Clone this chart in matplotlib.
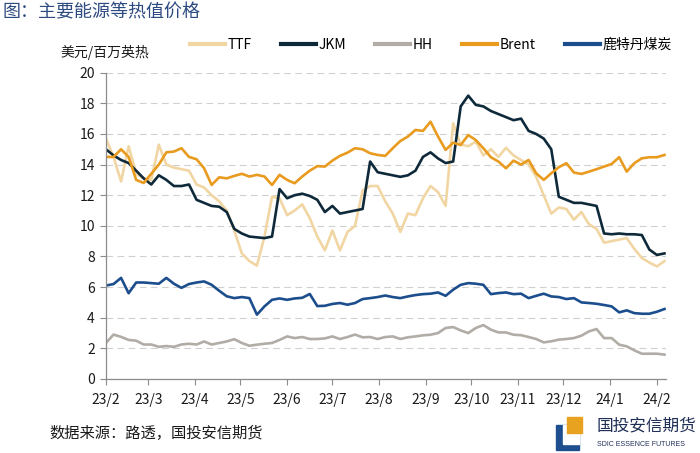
import matplotlib
matplotlib.use("Agg")
import matplotlib.pyplot as plt
import matplotlib.dates as mdates
import matplotlib.patches as mpatches
import pandas as pd

plt.rcParams['font.family'] = ['Noto Sans CJK SC', 'DejaVu Sans']

# sample dates (every 5 days from 2023-02-01)
dates = pd.date_range('2023-02-01', periods=75, freq='5D')

ttf = [15.7, 14.5, 12.9, 15.2, 13.4, 13.1, 13.0, 15.3, 14.0, 13.8, 13.7, 13.6, 12.7, 12.5, 12.0, 11.6, 11.0, 9.7, 8.2,
       7.7, 7.4, 9.3, 11.9, 11.8, 10.7, 11.0, 11.4, 10.5, 9.3, 8.4, 9.7, 8.4, 9.6, 10.0, 12.3, 12.6, 12.6,
       11.6, 10.8, 9.6, 10.8, 10.7, 11.8, 12.6, 12.2, 11.3, 16.7, 15.3, 15.2, 15.5, 14.6, 15.0, 14.5, 15.1, 14.6, 14.3,
       14.0, 13.2, 12.0, 10.8, 11.2, 11.1, 10.4, 10.9, 10.1, 9.8, 8.9, 9.0, 9.1, 9.2, 8.5, 7.9, 7.6, 7.35, 7.7]

jkm = [15.0, 14.6, 14.3, 14.1, 13.6, 13.1, 12.7, 13.3, 13.0, 12.6, 12.6, 12.7, 11.7, 11.5, 11.3, 11.25, 10.9, 9.8, 9.5,
       9.3, 9.25, 9.2, 9.3, 12.4, 11.8, 12.0, 12.1, 11.95, 11.7, 10.9, 11.3, 10.8, 10.9, 11.0, 11.1, 14.2, 13.5,
       13.4, 13.3, 13.2, 13.3, 13.6, 14.5, 14.8, 14.4, 14.1, 14.2, 17.8, 18.5, 17.9, 17.8, 17.5, 17.3, 17.1, 16.9, 17.0,
       16.2, 16.0, 15.7, 15.0, 11.9, 11.7, 11.5, 11.5, 11.4, 11.3, 9.5, 9.45, 9.5, 9.45, 9.45, 9.4, 8.45, 8.1, 8.2]

hh = [2.35, 2.9, 2.75, 2.55, 2.5, 2.25, 2.25, 2.1, 2.15, 2.1, 2.25, 2.3, 2.25, 2.45, 2.25, 2.35, 2.45, 2.6, 2.35,
      2.17, 2.24, 2.3, 2.35, 2.55, 2.78, 2.67, 2.74, 2.61, 2.61, 2.65, 2.78, 2.61, 2.74, 2.9, 2.72, 2.74, 2.61,
      2.74, 2.78, 2.61, 2.72, 2.78, 2.85, 2.89, 3.0, 3.33, 3.39, 3.17, 3.0, 3.33, 3.52, 3.22, 3.04, 3.04, 2.89, 2.86,
      2.74, 2.61, 2.39, 2.46, 2.57, 2.61, 2.67, 2.83, 3.11, 3.26, 2.67, 2.67, 2.24, 2.13, 1.87, 1.65, 1.65, 1.65, 1.59]

brent = [14.5, 14.5, 15.0, 14.5, 13.0, 12.8, 13.4, 14.0, 14.8, 14.85, 15.07, 14.5, 14.35, 13.76, 12.67, 13.17, 13.1, 13.26, 13.4,
         13.22, 13.33, 13.22, 12.67, 13.33, 13.0, 12.78, 13.22, 13.6, 13.9, 13.87, 14.26, 14.57, 14.78, 15.07, 15.0, 14.74, 14.63,
         14.57, 15.07, 15.54, 15.83, 16.26, 16.2, 16.8, 15.83, 14.96, 15.43, 15.28, 15.93, 15.6, 15.07, 14.48, 14.2, 13.76, 14.26, 14.0,
         14.3, 13.43, 13.0, 13.43, 13.83, 14.09, 13.48, 13.39, 13.54, 13.7, 13.87, 14.04, 14.48, 13.54, 14.09, 14.41, 14.48, 14.48, 14.63]

coal = [6.1, 6.2, 6.6, 5.6, 6.3, 6.3, 6.26, 6.22, 6.6, 6.22, 5.95, 6.2, 6.3, 6.37, 6.15, 5.76, 5.4, 5.28, 5.35,
        5.28, 4.2, 4.74, 5.17, 5.26, 5.17, 5.26, 5.3, 5.55, 4.76, 4.78, 4.9, 4.96, 4.85, 4.96, 5.22, 5.28, 5.35,
        5.45, 5.35, 5.28, 5.39, 5.48, 5.54, 5.57, 5.65, 5.43, 5.83, 6.15, 6.26, 6.22, 6.15, 5.54, 5.61, 5.65, 5.54, 5.57,
        5.28, 5.43, 5.57, 5.39, 5.35, 5.22, 5.28, 5.0, 4.96, 4.91, 4.83, 4.74, 4.35, 4.48, 4.3, 4.26, 4.26, 4.39, 4.57]

series_names = ['TTF', 'JKM', 'HH', 'Brent', '鹿特丹煤炭']
series_values = [ttf, jkm, hh, brent, coal]
colors = ['#F1D6A3', '#0E2A3A', '#B2ACA6', '#E89B1E', '#1C4E8E']

month_ticks = pd.date_range('2023-02-01', '2024-02-01', freq='MS')
month_labels = ['23/2', '23/3', '23/4', '23/5', '23/6', '23/7', '23/8', '23/9',
                '23/10', '23/11', '23/12', '24/1', '24/2']
y_ticks = [0, 2, 4, 6, 8, 10, 12, 14, 16, 18, 20]

fig = plt.figure(figsize=(7, 4.53), dpi=100)
ax = fig.add_axes([0.1514, 0.1634, 0.80, 0.6761])

for name, vals, c in zip(series_names, series_values, colors):
    ax.plot(dates, vals, color=c, lw=1.9, label=name, solid_joinstyle='round')

ax.set_ylim(0, 20)
ax.set_xlim(pd.Timestamp('2023-02-01'), pd.Timestamp('2024-02-07'))
ax.set_yticks(y_ticks)
ax.set_xticks(month_ticks)
ax.set_xticklabels(month_labels)
ax.yaxis.grid(True, linestyle=(0, (6, 4)), color='#D0D0D0', lw=0.8)
ax.set_axisbelow(True)
for s in ['top', 'right']:
    ax.spines[s].set_visible(False)
for s in ['left', 'bottom']:
    ax.spines[s].set_color('#8C8C8C')
    ax.spines[s].set_linewidth(0.9)
ax.tick_params(axis='both', colors='#8C8C8C', length=4, width=0.8, labelsize=10, labelcolor='#1A1A1A')
ax.tick_params(axis='x', pad=6)
ax.tick_params(axis='y', pad=4)

leg = fig.legend(loc='center left', bbox_to_anchor=(0.272, 0.901), ncol=5, frameon=False,
                 fontsize=10, handlelength=2.5, handletextpad=0.2, columnspacing=2.1,
                 borderpad=0, borderaxespad=0)
for line in leg.get_lines():
    line.set_linewidth(3)

fig.text(0.004, 0.972, '图：主要能源等热值价格', fontsize=13, color='#2D4B80', va='center', ha='left')
fig.text(0.086, 0.884, '美元/百万英热', fontsize=10, color='#1A1A1A', va='center', ha='left')
fig.text(0.071, 0.044, '数据来源：路透，国投安信期货', fontsize=11, color='#1A1A1A', va='center', ha='left')

# logo
def px(x, y):
    return (x / 700.0, 1 - y / 453.0)

blue_logo = '#1F4E8E'
orange_logo = '#E9A21F'
x0, y0 = px(556, 450)
fig.patches.append(mpatches.Rectangle((x0, y0), 23 / 700, 25 / 453, transform=fig.transFigure,
                                      color=blue_logo, zorder=5))
x1, y1 = px(563, 444)
fig.patches.append(mpatches.Rectangle((x1, y1), 16 / 700, 19 / 453, transform=fig.transFigure,
                                      color='white', zorder=6))
x2, y2 = px(567, 433)
fig.patches.append(mpatches.Rectangle((x2, y2), 15 / 700, 16 / 453, transform=fig.transFigure,
                                      color=orange_logo, zorder=7))
fig.text(597 / 700, 1 - 426 / 453, '国投安信期货', fontsize=12, color='#1F2F55', va='center', ha='left')
fig.text(597 / 700, 1 - 444 / 453, 'SDIC ESSENCE FUTURES', fontsize=5, color='#1F2F55', va='center', ha='left',
         family=['Liberation Sans Narrow', 'Liberation Sans', 'DejaVu Sans'])

fig.savefig('out.png', dpi=100)
